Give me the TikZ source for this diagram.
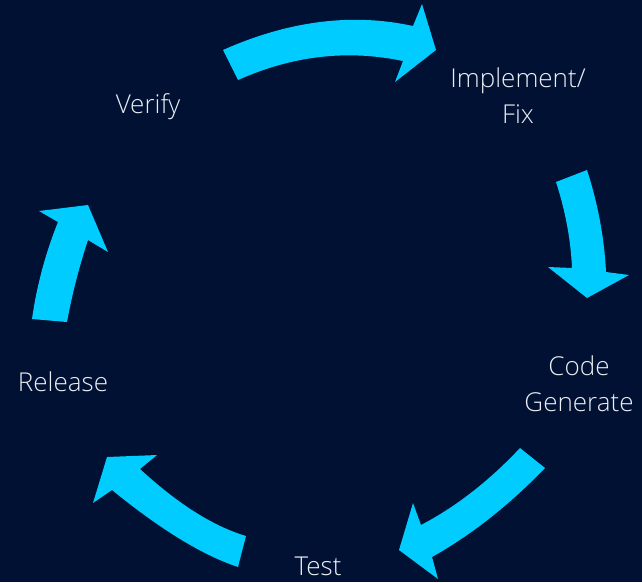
\documentclass[tikz,border=0pt]{standalone}
\usepackage{fontspec}
\setmainfont{Open Sans}[UprightFont={* Light}]
\definecolor{navy}{RGB}{0,17,51}
\definecolor{sky}{RGB}{0,204,255}
\definecolor{labelgray}{RGB}{235,238,242}
\begin{document}
\begin{tikzpicture}[x=1pt,y=-1pt,
  cyclearrow/.style={fill=sky},
  stagelabel/.style={text=labelgray,font=\fontsize{26}{35.5}\selectfont,align=center,inner sep=0pt,anchor=base}]
% background
\fill[navy] (0,0) rectangle (642,582);
\useasboundingbox (0,0) rectangle (642,582);

% top arrow: Verify -> Implement/Fix
\fill[cyclearrow] (223,50) .. controls (289,20.7) and (352.3,12.7) .. (413,26)
  -- (422,4) -- (436,50) -- (395,82) -- (403,61)
  .. controls (347.3,49.3) and (292.3,55.7) .. (238,80) -- cycle;
% right arrow: Implement/Fix -> Code Generate
\fill[cyclearrow] (587,170) .. controls (598,204) and (604.3,238) .. (606,272)
  -- (629,275) -- (587,298) -- (548,267) -- (572,268)
  .. controls (570.7,239.3) and (565.3,210.7) .. (556,182) -- cycle;
% lower right arrow: Code Generate -> Test
\fill[cyclearrow] (520,448) .. controls (489,481) and (456,506.7) .. (421,525)
  -- (413,503) -- (399,550) -- (438,579) -- (432,557)
  .. controls (471.7,534.7) and (509.3,505) .. (545,468) -- cycle;
% lower left arrow: Test -> Release
\fill[cyclearrow] (246,536) .. controls (213.3,526.3) and (178,504) .. (140,469)
  -- (157,455) -- (107,457) -- (93,503) -- (112,490)
  .. controls (160.7,529.7) and (202.7,555.3) .. (238,567) -- cycle;
% left arrow: Release -> Verify
\fill[cyclearrow] (32,319) .. controls (36.7,286) and (45.3,253.7) .. (58,222)
  -- (39,211) -- (88,205) -- (108,252) -- (88,240)
  .. controls (79,267.3) and (72,294.7) .. (67,322) -- cycle;

% stage labels (base anchor sits on the last line)
\node[stagelabel] (verify) at (148,113) {Verify};
\node[stagelabel] (implement) at (518,123) {Implement/\\Fix};
\node[stagelabel] (codegen) at (579,411) {Code\\Generate};
\node[stagelabel] (test) at (318,575) {Test};
\node[stagelabel] (release) at (63,391) {Release};
\end{tikzpicture}
\end{document}
